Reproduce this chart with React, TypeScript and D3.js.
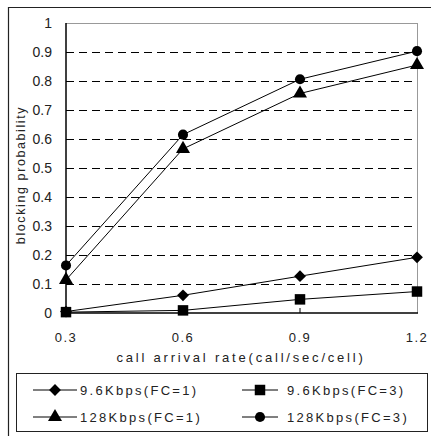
import React from "react"
import * as d3 from "d3"

const rates = [0.3, 0.6, 0.9, 1.2]
const yTicks = [0, 0.1, 0.2, 0.3, 0.4, 0.5, 0.6, 0.7, 0.8, 0.9, 1]
const kbps96fc1 = [0.005, 0.061, 0.127, 0.192]
const kbps96fc3 = [0.003, 0.009, 0.047, 0.074]
const kbps128fc1 = [0.114, 0.566, 0.757, 0.855]
const kbps128fc3 = [0.164, 0.615, 0.806, 0.903]
const seriesNames = ["9.6Kbps(FC=1)", "9.6Kbps(FC=3)", "128Kbps(FC=1)", "128Kbps(FC=3)"]
const seriesMarks = ["diamond", "square", "triangle", "circle"]

const font = "'Liberation Sans', Arial, sans-serif"

// rotated square, a bit flatter than d3's own diamond
const squareDiamond = {
    draw(ctx: any, size: number) {
        const r = Math.sqrt(size / 2)
        ctx.moveTo(0, -r)
        ctx.lineTo(r, 0)
        ctx.lineTo(0, r)
        ctx.lineTo(-r, 0)
        ctx.closePath()
    }
}

function Marker({kind, x, y}: {kind: string, x: number, y: number}) {
    const sym: any = kind === "diamond" ? squareDiamond
        : kind === "square" ? d3.symbolSquare
        : kind === "triangle" ? d3.symbolTriangle
        : d3.symbolCircle
    const size = kind === "diamond" ? 70 : kind === "square" ? 110 : kind === "triangle" ? 85 : 80
    const path = d3.symbol().type(sym).size(size)()
    return <path d={path || ""} transform={`translate(${x},${y})`} fill="#000" />
}

export default function App() {
    const x = d3.scaleLinear().domain([0.3, 1.2]).range([66, 417])
    const y = d3.scaleLinear().domain([0, 1]).range([313, 23])
    const series = [kbps96fc1, kbps96fc3, kbps128fc1, kbps128fc3]
    const line = d3.line<number>().x((_, i) => x(rates[i])).y(d => y(d))

    const legendPos = [
        {lx: 33, rx: 77, mx: 55, tx: 80, ty: 390},
        {lx: 242, rx: 278, mx: 260, tx: 287, ty: 390},
        {lx: 33, rx: 77, mx: 55, tx: 80, ty: 417},
        {lx: 242, rx: 278, mx: 260, tx: 287, ty: 417},
    ]

    return (
        <svg width={431} height={436} style={{position: "absolute", left: 0, top: 0}} fontFamily={font}>
            <rect x={0} y={0} width={431} height={436} fill="#fff" />
            {/* outer frame */}
            <line x1={8} y1={7.5} x2={431} y2={7.5} stroke="#222" strokeWidth={1.2} />
            <line x1={8.5} y1={7} x2={8.5} y2={436} stroke="#222" strokeWidth={1.2} />

            {/* grid */}
            {yTicks.filter(t => t > 0 && t < 1).map(t =>
                <line key={t} x1={66} x2={417} y1={Math.round(y(t)) + 0.5} y2={Math.round(y(t)) + 0.5}
                      stroke="#000" strokeDasharray="8,5" strokeWidth={1} />
            )}
            <line x1={66} x2={417} y1={23.5} y2={23.5} stroke="#999" />
            <line x1={417.5} x2={417.5} y1={23} y2={313} stroke="#999" />
            {rates.slice(1, 3).map(r =>
                <line key={r} x1={x(r)} x2={x(r)} y1={313} y2={308} stroke="#000" />
            )}
            <line x1={66} x2={66} y1={23} y2={314} stroke="#000" strokeWidth={1.5} />
            <line x1={66} x2={418} y1={313} y2={313} stroke="#000" strokeWidth={1.5} />

            {/* axes labels */}
            {yTicks.map(t =>
                <text key={t} x={52} y={y(t) + 5} textAnchor="end" fontSize={14} fill="#222">{t === 0 ? "0" : t === 1 ? "1" : t.toFixed(1)}</text>
            )}
            {rates.map(r =>
                <text key={r} x={x(r)} y={342} textAnchor="middle" fontSize={13} fill="#222" letterSpacing={1.5}>{r.toFixed(1)}</text>
            )}
            <text x={241} y={362} textAnchor="middle" fontSize={13} fill="#222" letterSpacing={2.8}>call arrival rate(call/sec/cell)</text>
            <text transform="translate(25,175) rotate(-90)" textAnchor="middle" fontSize={12.5} fill="#222" letterSpacing={1.6}>blocking probability</text>

            {/* series */}
            {series.map((s, i) =>
                <g key={i}>
                    <path d={line(s) || ""} fill="none" stroke="#000" strokeWidth={1} />
                    {s.map((v, j) => <Marker key={j} kind={seriesMarks[i]} x={x(rates[j])} y={y(v)} />)}
                </g>
            )}

            {/* legend */}
            <rect x={16.5} y={373.5} width={411} height={58} fill="#fff" stroke="#222" />
            {seriesNames.map((n, i) => {
                const p = legendPos[i]
                return <g key={n}>
                    <line x1={p.lx} x2={p.rx} y1={p.ty} y2={p.ty} stroke="#000" />
                    <Marker kind={seriesMarks[i]} x={p.mx} y={p.ty} />
                    <text x={p.tx} y={p.ty + 5} fontSize={13} fill="#222" letterSpacing={2.3}>{n}</text>
                </g>
            })}
        </svg>
    )
}
